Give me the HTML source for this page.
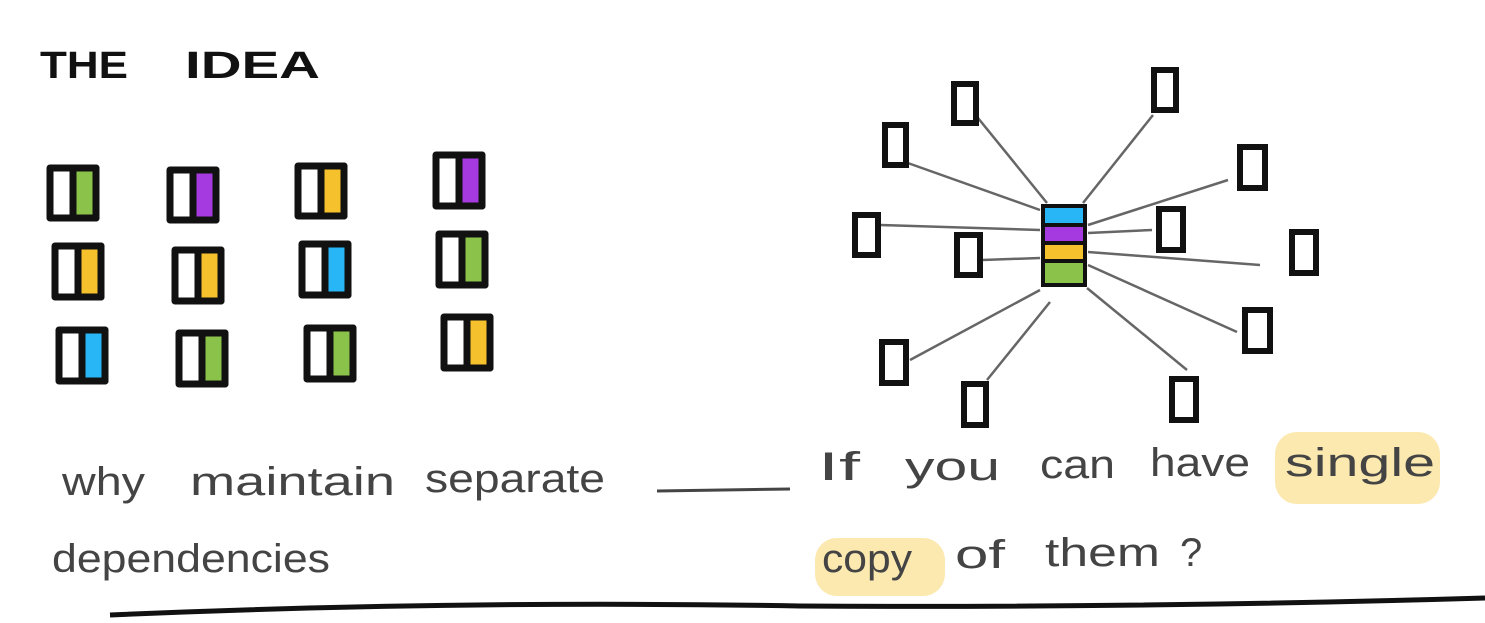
<!DOCTYPE html>
<html><head><style>
html,body{margin:0;padding:0;background:#fff;}
svg{display:block;}
.t{font-family:"Liberation Sans",sans-serif;font-weight:bold;}
.h{font-family:"Liberation Sans Narrow","Liberation Sans",sans-serif;}
</style></head><body>
<svg width="1485" height="623" viewBox="0 0 1485 623" xmlns="http://www.w3.org/2000/svg">
<rect width="1485" height="623" fill="#fff"/>
<text class="t" x="40" y="78" font-size="38" fill="#111" textLength="88" lengthAdjust="spacingAndGlyphs">THE</text>
<text class="t" x="185" y="78" font-size="38" fill="#111" textLength="135" lengthAdjust="spacingAndGlyphs">IDEA</text>
<g stroke="#111" stroke-width="7" stroke-linejoin="round">
<rect x="50" y="168" width="46" height="50" fill="#fff"/><rect x="73" y="168" width="23" height="50" fill="#8bc34a"/>
<rect x="170" y="170" width="46" height="50" fill="#fff"/><rect x="193" y="170" width="23" height="50" fill="#a53ae0"/>
<rect x="298" y="166" width="46" height="50" fill="#fff"/><rect x="321" y="166" width="23" height="50" fill="#f5c22e"/>
<rect x="436" y="155" width="46" height="51" fill="#fff"/><rect x="459" y="155" width="23" height="51" fill="#a53ae0"/>
<rect x="55" y="246" width="46" height="51" fill="#fff"/><rect x="78" y="246" width="23" height="51" fill="#f5c22e"/>
<rect x="175" y="250" width="46" height="51" fill="#fff"/><rect x="198" y="250" width="23" height="51" fill="#f5c22e"/>
<rect x="302" y="244" width="46" height="51" fill="#fff"/><rect x="325" y="244" width="23" height="51" fill="#29b6f6"/>
<rect x="439" y="234" width="46" height="51" fill="#fff"/><rect x="462" y="234" width="23" height="51" fill="#8bc34a"/>
<rect x="59" y="330" width="46" height="51" fill="#fff"/><rect x="82" y="330" width="23" height="51" fill="#29b6f6"/>
<rect x="179" y="333" width="46" height="51" fill="#fff"/><rect x="202" y="333" width="23" height="51" fill="#8bc34a"/>
<rect x="307" y="328" width="46" height="51" fill="#fff"/><rect x="330" y="328" width="23" height="51" fill="#8bc34a"/>
<rect x="444" y="317" width="46" height="51" fill="#fff"/><rect x="467" y="317" width="23" height="51" fill="#f5c22e"/>
</g>
<g stroke="#666" stroke-width="2.5" fill="none">
<line x1="978" y1="118" x2="1047" y2="203"/>
<line x1="905" y1="162" x2="1040" y2="210"/>
<line x1="1153" y1="115" x2="1083" y2="203"/>
<line x1="1228" y1="180" x2="1088" y2="225"/>
<line x1="880" y1="225" x2="1040" y2="230"/>
<line x1="982" y1="260" x2="1040" y2="258"/>
<line x1="1152" y1="230" x2="1088" y2="233"/>
<line x1="1260" y1="265" x2="1088" y2="252"/>
<line x1="1237" y1="332" x2="1088" y2="265"/>
<line x1="910" y1="360" x2="1040" y2="290"/>
<line x1="987" y1="380" x2="1050" y2="302"/>
<line x1="1187" y1="370" x2="1087" y2="288"/>
</g>
<g stroke="#111" stroke-width="6" fill="#fff">
<rect x="954" y="84" width="22" height="39"/>
<rect x="885" y="125" width="21" height="40"/>
<rect x="1154" y="70" width="22" height="40"/>
<rect x="1240" y="147" width="25" height="41"/>
<rect x="855" y="215" width="23" height="40"/>
<rect x="957" y="235" width="23" height="40"/>
<rect x="1159" y="209" width="24" height="41"/>
<rect x="1292" y="232" width="24" height="41"/>
<rect x="1245" y="310" width="25" height="41"/>
<rect x="882" y="342" width="24" height="41"/>
<rect x="964" y="384" width="22" height="41"/>
<rect x="1172" y="379" width="24" height="41"/>
</g>
<rect x="1041" y="204" width="46" height="83" fill="#111"/>
<rect x="1045" y="208" width="38" height="15" fill="#29b6f6"/>
<rect x="1045" y="227" width="38" height="14" fill="#a53ae0"/>
<rect x="1045" y="245" width="38" height="14" fill="#f5c22e"/>
<rect x="1045" y="263" width="38" height="20" fill="#8bc34a"/>
<rect x="1275" y="432" width="165" height="72" rx="22" fill="#fbe9b0"/>
<rect x="815" y="538" width="130" height="58" rx="22" fill="#fbe9b0"/>
<g fill="#444" font-size="40" class="h">
<text class="h" x="62" y="495" textLength="83" lengthAdjust="spacingAndGlyphs">why</text>
<text class="h" x="190" y="495" textLength="205" lengthAdjust="spacingAndGlyphs">maintain</text>
<text class="h" x="425" y="492" textLength="180" lengthAdjust="spacingAndGlyphs">separate</text>
<text class="h" x="52" y="572" textLength="278" lengthAdjust="spacingAndGlyphs">dependencies</text>
<text class="h" x="818" y="480" textLength="42" lengthAdjust="spacingAndGlyphs">If</text>
<text class="h" x="905" y="480" textLength="95" lengthAdjust="spacingAndGlyphs">you</text>
<text class="h" x="1040" y="478" textLength="75" lengthAdjust="spacingAndGlyphs">can</text>
<text class="h" x="1150" y="476" textLength="100" lengthAdjust="spacingAndGlyphs">have</text>
<text class="h" x="1285" y="476" textLength="150" lengthAdjust="spacingAndGlyphs">single</text>
<text class="h" x="822" y="572" textLength="90" lengthAdjust="spacingAndGlyphs">copy</text>
<text class="h" x="955" y="568" textLength="50" lengthAdjust="spacingAndGlyphs">of</text>
<text class="h" x="1045" y="566" textLength="115" lengthAdjust="spacingAndGlyphs">them</text>
<text class="h" x="1180" y="566">?</text>
</g>
<line x1="657" y1="491" x2="790" y2="489" stroke="#444" stroke-width="3"/>
<path d="M110 615 Q 450 600 800 606 Q 1150 608 1485 598" stroke="#111" stroke-width="5" fill="none"/>
</svg>
</body></html>
